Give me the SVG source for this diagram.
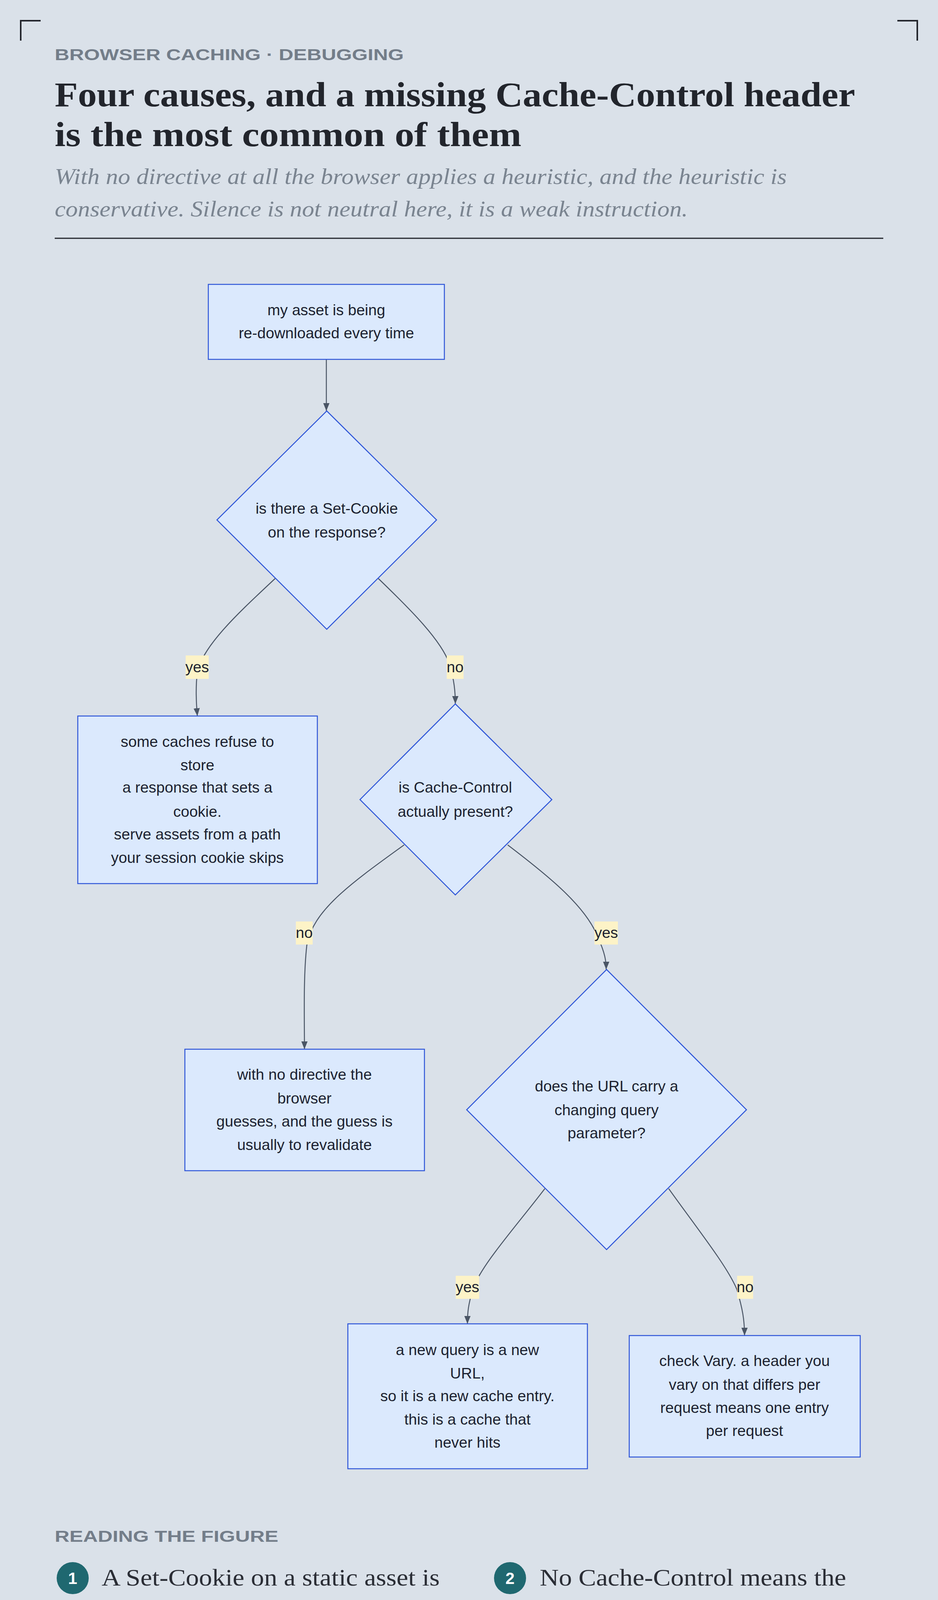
<svg xmlns="http://www.w3.org/2000/svg" width="2400" height="5534" viewBox="0 0 2400 5534">
<style>
.node{fill:#dbe9fd;stroke:#2f56d8;stroke-width:2.5}
.nt{font-family:"Liberation Sans",Arial,sans-serif;font-size:39px;fill:#1c2230;text-anchor:middle}
.edge{fill:none;stroke:#4a5565;stroke-width:2.5;marker-end:url(#arr)}
.lb{fill:#fdf3c7}
.corner{fill:none;stroke:#23262d;stroke-width:4}
.item{font-family:"Liberation Serif","Times New Roman",serif;font-size:62px;fill:#2a2d35}
.num{font-family:"Liberation Sans",Arial,sans-serif;font-size:42px;font-weight:bold;fill:#fff;text-anchor:middle}
.body{font-family:"Liberation Serif","Times New Roman",serif;font-size:66px;fill:#2a2d35}
</style>
<defs>
<marker id="arr" viewBox="0 0 20 16" refX="20" refY="8" markerWidth="20" markerHeight="16" orient="auto" markerUnits="userSpaceOnUse">
<path d="M0,0 L20,8 L0,16 z" fill="#4a5565"/>
</marker>
</defs>
<rect width="2400" height="5534" fill="#dae1e9"/>
<g id="corners">
<path class="corner" d="M53,104 V53 H104"/>
<path class="corner" d="M2296,53 H2347 V104"/>
<path class="corner" d="M53,5430 V5481 H104"/>
<path class="corner" d="M2296,5481 H2347 V5430"/>
</g>
<g id="header">
<text x="140" y="154" font-family="Liberation Sans,Arial,sans-serif" font-size="40" font-weight="bold" fill="#737d89" textLength="893" lengthAdjust="spacingAndGlyphs">BROWSER CACHING · DEBUGGING</text>
<text x="140" y="272" font-family="Liberation Serif,Times New Roman,serif" font-size="88" font-weight="bold" fill="#22252c" textLength="2048" lengthAdjust="spacingAndGlyphs">Four causes, and a missing Cache-Control header</text>
<text x="140" y="374" font-family="Liberation Serif,Times New Roman,serif" font-size="88" font-weight="bold" fill="#22252c" textLength="1194" lengthAdjust="spacingAndGlyphs">is the most common of them</text>
<text x="140" y="471" font-family="Liberation Serif,Times New Roman,serif" font-size="56" font-style="italic" fill="#7a8490" textLength="1873" lengthAdjust="spacingAndGlyphs">With no directive at all the browser applies a heuristic, and the heuristic is</text>
<text x="140" y="554" font-family="Liberation Serif,Times New Roman,serif" font-size="56" font-style="italic" fill="#7a8490" textLength="1620" lengthAdjust="spacingAndGlyphs">conservative. Silence is not neutral here, it is a weak instruction.</text>
<line x1="140" y1="610" x2="2260" y2="610" stroke="#23262d" stroke-width="3"/>
</g>
<g id="connectors">
<path class="edge" d="M835,920 V1052"/>
<path class="edge" d="M704,1481 C620,1560 520,1650 505,1720 C500,1760 502,1800 505,1833"/>
<path class="edge" d="M968,1481 C1050,1560 1130,1640 1150,1700 C1162,1740 1165,1770 1165,1802"/>
<path class="edge" d="M1034,2163 C900,2260 800,2330 785,2420 C776,2500 779,2600 779,2686"/>
<path class="edge" d="M1299,2163 C1400,2240 1500,2320 1530,2400 C1548,2440 1551,2460 1551,2482"/>
<path class="edge" d="M1394,3043 C1320,3140 1230,3240 1210,3300 C1198,3340 1196,3360 1196,3389"/>
<path class="edge" d="M1711,3043 C1780,3140 1860,3240 1885,3300 C1900,3350 1905,3380 1905,3419"/>
<rect class="lb" x="475" y="1678" width="59" height="60"/>
<text class="nt" x="504.5" y="1721">yes</text>
<rect class="lb" x="1143" y="1678" width="43" height="60"/>
<text class="nt" x="1164.5" y="1721">no</text>
<rect class="lb" x="757" y="2359" width="43" height="59"/>
<text class="nt" x="778.5" y="2401">no</text>
<rect class="lb" x="1521" y="2359" width="60" height="59"/>
<text class="nt" x="1551" y="2401">yes</text>
<rect class="lb" x="1166" y="3266" width="60" height="59"/>
<text class="nt" x="1196" y="3308">yes</text>
<rect class="lb" x="1886" y="3266" width="41" height="59"/>
<text class="nt" x="1906.5" y="3308">no</text>
</g>
<g id="n1">
<rect class="node" x="533" y="728" width="604" height="192"/>
<text class="nt" x="835" y="807">my asset is being</text>
<text class="nt" x="835" y="866">re-downloaded every time</text>
</g>
<g id="d1">
<polygon class="node" points="836,1052 1117,1331 836,1611 555,1331"/>
<text class="nt" x="836" y="1315">is there a Set-Cookie</text>
<text class="nt" x="836" y="1376">on the response?</text>
</g>
<g id="n2">
<rect class="node" x="199" y="1833" width="613" height="429"/>
<text class="nt" x="505" y="1912">some caches refuse to</text>
<text class="nt" x="505" y="1972">store</text>
<text class="nt" x="505" y="2029">a response that sets a</text>
<text class="nt" x="505" y="2091">cookie.</text>
<text class="nt" x="505" y="2149">serve assets from a path</text>
<text class="nt" x="505" y="2209">your session cookie skips</text>
</g>
<g id="d2">
<polygon class="node" points="1165,1802 1412,2047 1165,2291 921,2047"/>
<text class="nt" x="1165" y="2029">is Cache-Control</text>
<text class="nt" x="1165" y="2091">actually present?</text>
</g>
<g id="n3">
<rect class="node" x="473" y="2686" width="613" height="311"/>
<text class="nt" x="779" y="2764">with no directive the</text>
<text class="nt" x="779" y="2825">browser</text>
<text class="nt" x="779" y="2884">guesses, and the guess is</text>
<text class="nt" x="779" y="2944">usually to revalidate</text>
</g>
<g id="d3">
<polygon class="node" points="1552,2482 1910,2841 1552,3199 1194,2841"/>
<text class="nt" x="1552" y="2794">does the URL carry a</text>
<text class="nt" x="1552" y="2855">changing query</text>
<text class="nt" x="1552" y="2914">parameter?</text>
</g>
<g id="n4">
<rect class="node" x="890" y="3389" width="613" height="371"/>
<text class="nt" x="1196" y="3469">a new query is a new</text>
<text class="nt" x="1196" y="3529">URL,</text>
<text class="nt" x="1196" y="3587">so it is a new cache entry.</text>
<text class="nt" x="1196" y="3647">this is a cache that</text>
<text class="nt" x="1196" y="3706">never hits</text>
</g>
<g id="n5">
<rect class="node" x="1610" y="3419" width="591" height="311"/>
<text class="nt" x="1905" y="3497">check Vary. a header you</text>
<text class="nt" x="1905" y="3558">vary on that differs per</text>
<text class="nt" x="1905" y="3617">request means one entry</text>
<text class="nt" x="1905" y="3676">per request</text>
</g>
<g id="reading">
<text x="140" y="3947" font-family="Liberation Sans,Arial,sans-serif" font-size="40" font-weight="bold" fill="#737d89" textLength="572" lengthAdjust="spacingAndGlyphs">READING THE FIGURE</text>
<circle cx="186" cy="4040" r="41" fill="#1f6870"/>
<text class="num" x="186" y="4055">1</text>
<text class="item" x="260" y="4059" textLength="865" lengthAdjust="spacingAndGlyphs">A Set-Cookie on a static asset is</text>
<text class="item" x="260" y="4148" textLength="816" lengthAdjust="spacingAndGlyphs">enough to stop several caches</text>
<text class="item" x="260" y="4236" textLength="263" lengthAdjust="spacingAndGlyphs">storing it.</text>
<circle cx="1305" cy="4040" r="41" fill="#1f6870"/>
<text class="num" x="1305" y="4055">2</text>
<text class="item" x="1381" y="4059" textLength="784" lengthAdjust="spacingAndGlyphs">No Cache-Control means the</text>
<text class="item" x="1381" y="4148" textLength="738" lengthAdjust="spacingAndGlyphs">browser guesses from Last-</text>
<text class="item" x="1381" y="4236" textLength="437" lengthAdjust="spacingAndGlyphs">Modified, badly.</text>
<circle cx="186" cy="4340" r="41" fill="#1f6870"/>
<text class="num" x="186" y="4355">3</text>
<text class="item" x="260" y="4363" textLength="865" lengthAdjust="spacingAndGlyphs">A cache-busting parameter that</text>
<text class="item" x="260" y="4452" textLength="865" lengthAdjust="spacingAndGlyphs">changes per request guarantees</text>
<text class="item" x="260" y="4539" textLength="500" lengthAdjust="spacingAndGlyphs">a permanent miss.</text>
<circle cx="1305" cy="4340" r="41" fill="#1f6870"/>
<text class="num" x="1305" y="4355">4</text>
<text class="item" x="1381" y="4363" textLength="677" lengthAdjust="spacingAndGlyphs">And varying on anything</text>
<text class="item" x="1381" y="4452" textLength="845" lengthAdjust="spacingAndGlyphs">request-specific has exactly the</text>
<text class="item" x="1381" y="4539" textLength="325" lengthAdjust="spacingAndGlyphs">same effect.</text>
</g>
<g id="rule">
<line x1="140" y1="4747" x2="2260" y2="4747" stroke="#a8adb5" stroke-width="3"/>
<text x="140" y="4873" font-family="Liberation Serif,Times New Roman,serif" font-size="82" font-weight="bold" fill="#22252c" textLength="602" lengthAdjust="spacingAndGlyphs">The single rule</text>
<text class="body" x="140" y="4987" textLength="2075" lengthAdjust="spacingAndGlyphs">Always send an explicit Cache-Control header, even when the answer is</text>
<text class="body" x="140" y="5087" textLength="1940" lengthAdjust="spacingAndGlyphs">a short max-age. Leaving it off does not mean no caching, it means</text>
<text class="body" x="140" y="5187" textLength="2075" lengthAdjust="spacingAndGlyphs">unpredictable caching that differs between browsers and changes when</text>
<text class="body" x="140" y="5285">they update.</text>
<rect x="141" y="5369" width="21" height="22" fill="#1f6870"/>
<text x="187" y="5393" font-family="Liberation Serif,Times New Roman,serif" font-size="40" font-weight="bold" fill="#1f6870" textLength="704" lengthAdjust="spacingAndGlyphs">SYSTEMDESIGN.ACADEMY</text>
</g>
</svg>
